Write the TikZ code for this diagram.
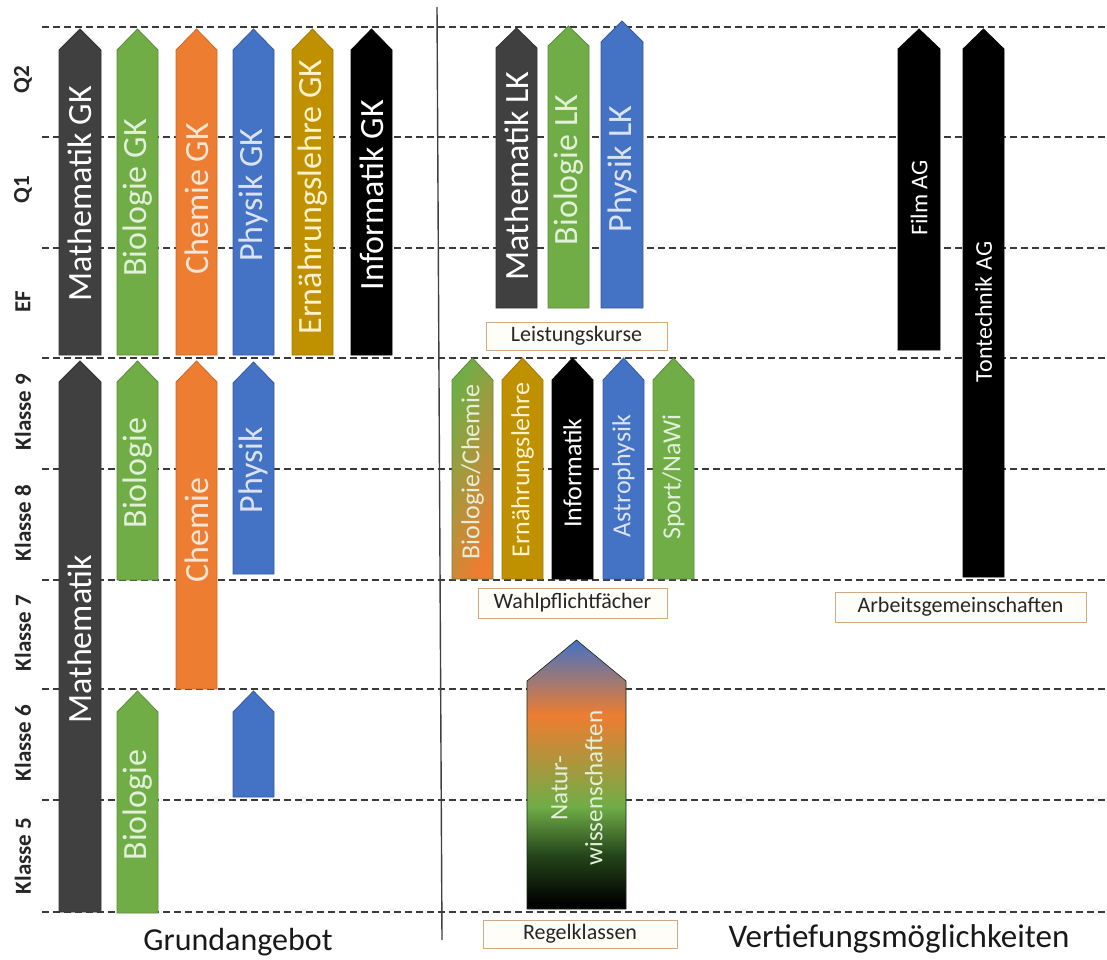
\documentclass[tikz,border=0pt]{standalone}
\usepackage{fontspec}
\setmainfont{Carlito}
\definecolor{mgray}{HTML}{404040}
\definecolor{bgreen}{HTML}{70AD47}
\definecolor{corange}{HTML}{ED7D31}
\definecolor{pblue}{HTML}{4472C4}
\definecolor{egold}{HTML}{BF9000}
\definecolor{gridc}{HTML}{3A3A3A}
\definecolor{boxc}{HTML}{D2AA82}
\definecolor{boxfill}{HTML}{FFFDF8}
\definecolor{tgreen}{HTML}{E2F0D9}
\definecolor{torange}{HTML}{FBE5D6}
\definecolor{tblue}{HTML}{DAE3F3}
\definecolor{tgold}{HTML}{FFF2CC}
\definecolor{natdg}{HTML}{24451A}
\pgfdeclareverticalshading{natshade}{100bp}{color(0bp)=(black); color(26bp)=(black); color(35bp)=(natdg); color(44bp)=(bgreen); color(61bp)=(corange); color(75bp)=(pblue); color(100bp)=(pblue)}
\newcommand\UpArrow[6]{%
  \path[#1] (#2,#6) -- (#2,#5) -- ({(#2+#3)/2},#4) -- (#3,#5) -- (#3,#6) -- cycle;}
\tikzset{
  gridline/.style={draw=gridc, dash pattern=on 7pt off 4pt, line width=1.4pt},
  shp/.style={line width=0.8pt},
  fgray/.style={shp, fill=mgray, draw=mgray!80!black},
  fgreen/.style={shp, fill=bgreen, draw=bgreen!80!black},
  forange/.style={shp, fill=corange, draw=corange!85!black},
  fblue/.style={shp, fill=pblue, draw=pblue!80!black},
  fgold/.style={shp, fill=egold, draw=egold!85!black},
  fblack/.style={shp, fill=black, draw=black},
  vtext/.style={rotate=90, inner sep=0pt, anchor=center},
  bigt/.style={vtext, font=\fontsize{34}{40}\selectfont},
  midt/.style={vtext, font=\fontsize{26}{30}\selectfont},
  smallt/.style={vtext, font=\fontsize{24}{28}\selectfont},
  rowlbl/.style={rotate=90, inner sep=0pt, font=\bfseries\fontsize{23}{26}\selectfont, text=black!85},
  capbox/.style={draw=boxc, line width=1pt, fill=boxfill, inner sep=0pt,
    font=\fontsize{22}{26}\selectfont, text=black!85},
  bottomt/.style={anchor=base, inner sep=0pt, text=black!90}
}
\begin{document}
\begin{tikzpicture}[x=1pt,y=-1pt]
\useasboundingbox (0,0) rectangle (1107,959);
\fill[white] (0,0) rectangle (1107,959);
% grid lines
\foreach \yy in {27,137,248,358,469,580,689,800,912}
  \draw[gridline] (42,\yy) -- (1107,\yy);
% separator
\coordinate (septop) at (437,7);
\coordinate (sepbot) at (442,940);
\draw[draw=mgray, line width=1.4pt] (septop) -- (sepbot);
% row labels
\node[rowlbl] (rq2) at (23,80) {Q2};
\node[rowlbl] (rq1) at (23,190) {Q1};
\node[rowlbl] (ref) at (23,302) {EF};
\node[rowlbl] (rk9) at (23,412) {Klasse 9};
\node[rowlbl] (rk8) at (23,523) {Klasse 8};
\node[rowlbl] (rk7) at (23,633) {Klasse 7};
\node[rowlbl] (rk6) at (23,743) {Klasse 6};
\node[rowlbl] (rk5) at (23,856) {Klasse 5};
% GK arrows
\UpArrow{fgray}{59}{101}{29}{50}{355}
\UpArrow{fgreen}{117}{158}{29}{50}{355}
\UpArrow{forange}{176}{217}{29}{50}{355}
\UpArrow{fblue}{233}{274}{29}{50}{355}
\UpArrow{fgold}{292}{333}{29}{50}{355}
\UpArrow{fblack}{351}{392}{29}{50}{355}
\node[bigt, text=white] (mathgk) at (80,194) {Mathematik GK};
\node[bigt, text=tgreen] (biogk) at (137.5,198) {Biologie GK};
\node[bigt, text=torange] (chemgk) at (196.5,199) {Chemie GK};
\node[bigt, text=tblue] (physgk) at (253.5,195) {Physik GK};
\node[bigt, text=tgold] (ernagk) at (312.5,197) {Ernährungslehre GK};
\node[bigt, text=white] (infgk) at (371.5,195) {Informatik GK};
% Sek I arrows
\UpArrow{fgray}{59}{101}{361}{382}{912}
\UpArrow{fgreen}{117}{158}{361}{382}{580}
\UpArrow{forange}{176}{217}{361}{382}{689}
\UpArrow{fblue}{233}{274}{362}{383}{574}
\UpArrow{fgreen}{117}{158}{691}{712}{913}
\UpArrow{fblue}{233}{274}{691}{712}{797}
\node[bigt, text=white] (math) at (80,639) {Mathematik};
\node[bigt, text=tgreen] (bio9) at (137.5,473) {Biologie};
\node[bigt, text=torange] (chem) at (196.5,530) {Chemie};
\node[bigt, text=tblue] (phys) at (253.5,470) {Physik};
\node[bigt, text=tgreen] (bio5) at (137.5,805) {Biologie};
% LK arrows
\UpArrow{fgray}{496}{537}{28}{48}{308}
\UpArrow{fgreen}{548}{589}{26}{46}{308}
\UpArrow{fblue}{601}{643}{21}{42}{308}
\node[bigt, text=white] (mathlk) at (516.5,176) {Mathematik LK};
\node[bigt, text=tgreen] (biolk) at (568.5,170) {Biologie LK};
\node[bigt, text=tblue] (physlk) at (622,169) {Physik LK};
\node[capbox, minimum width=181pt, minimum height=28pt] (lk) at (576.5,336) {Leistungskurse};
% Wahlpflicht arrows
\UpArrow{shp, draw=bgreen!80!black, top color=bgreen, bottom color=corange, shading angle=65}{452}{493}{358}{380}{579}
\UpArrow{fgold}{502}{543}{358}{380}{579}
\UpArrow{fblack}{552}{593}{358}{380}{579}
\UpArrow{fblue}{603}{644}{358}{380}{579}
\UpArrow{fgreen}{653}{694}{358}{380}{579}
\node[midt, text=tgreen] (biochem) at (472.5,472) {Biologie/Chemie};
\node[midt, text=tgold] (erna) at (522.5,470) {Ernährungslehre};
\node[midt, text=white] (inf) at (572.5,473) {Informatik};
\node[midt, text=tblue] (astro) at (623.5,476) {Astrophysik};
\node[midt, text=tgreen] (sport) at (673.5,477) {Sport/NaWi};
\node[capbox, minimum width=189pt, minimum height=30pt] (wp) at (572.5,603) {Wahlpflichtfächer};
% Naturwissenschaften
\UpArrow{shading=natshade, draw=natdg!60!black, line width=0.6pt}{527}{626}{640}{681}{909}
\node[vtext, align=center, font=\fontsize{25}{35}\selectfont, text=tgreen] (nat) at (577,788) {Natur-\\wissenschaften};
\node[capbox, minimum width=194pt, minimum height=28pt] (rk) at (580,934) {Regelklassen};
% AG arrows
\UpArrow{fblack}{898}{940}{29}{49}{350}
\UpArrow{fblack}{963}{1004}{29}{49}{577}
\node[smallt, text=white] (film) at (919,198) {Film AG};
\node[smallt, text=white] (ton) at (983.5,312) {Tontechnik AG};
\node[capbox, minimum width=251pt, minimum height=30pt] (ag) at (960.5,607) {Arbeitsgemeinschaften};
% bottom titles
\node[bottomt, font=\fontsize{32}{36}\selectfont] (grund) at (238,950) {Grundangebot};
\node[bottomt, font=\fontsize{33}{36}\selectfont] (vert) at (899,947) {Vertiefungsmöglichkeiten};
\end{tikzpicture}
\end{document}
